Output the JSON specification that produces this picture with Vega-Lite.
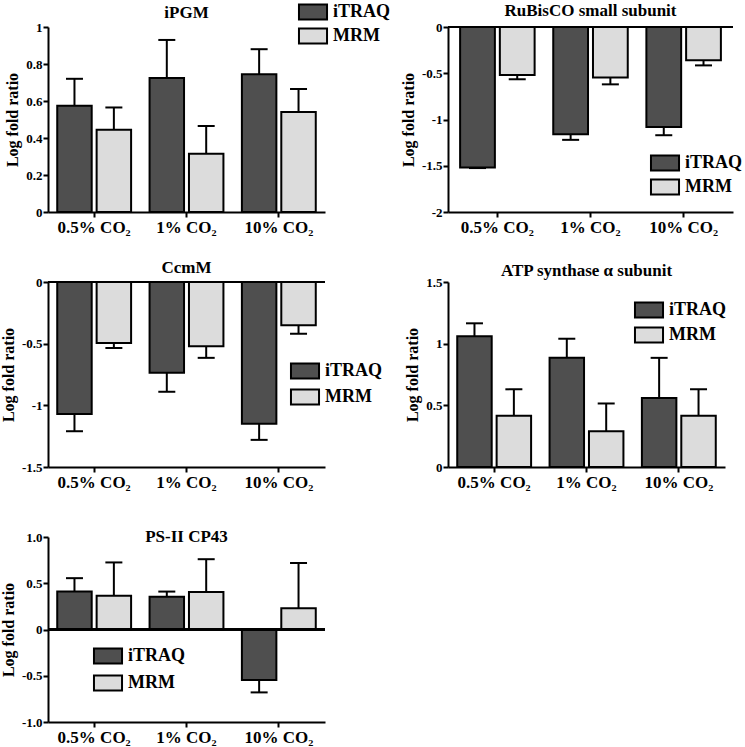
{
  "$schema": "https://vega.github.io/schema/vega-lite/v6.json",
  "padding": {"left": 0, "top": 2, "right": 2, "bottom": 2},
  "background": "white",
  "datasets": {
    "ipgm": [
      {"cond": "0.5% CO₂", "method": "iTRAQ", "value": 0.575, "err": 0.72},
      {"cond": "0.5% CO₂", "method": "MRM", "value": 0.445, "err": 0.565},
      {"cond": "1% CO₂", "method": "iTRAQ", "value": 0.725, "err": 0.93},
      {"cond": "1% CO₂", "method": "MRM", "value": 0.315, "err": 0.465},
      {"cond": "10% CO₂", "method": "iTRAQ", "value": 0.745, "err": 0.88},
      {"cond": "10% CO₂", "method": "MRM", "value": 0.54, "err": 0.665}
    ],
    "rubisco": [
      {"cond": "0.5% CO₂", "method": "iTRAQ", "value": -1.52, "err": -1.525},
      {"cond": "0.5% CO₂", "method": "MRM", "value": -0.52, "err": -0.565},
      {"cond": "1% CO₂", "method": "iTRAQ", "value": -1.16, "err": -1.22},
      {"cond": "1% CO₂", "method": "MRM", "value": -0.545, "err": -0.62},
      {"cond": "10% CO₂", "method": "iTRAQ", "value": -1.08, "err": -1.17},
      {"cond": "10% CO₂", "method": "MRM", "value": -0.36, "err": -0.415}
    ],
    "ccmm": [
      {"cond": "0.5% CO₂", "method": "iTRAQ", "value": -1.07, "err": -1.21},
      {"cond": "0.5% CO₂", "method": "MRM", "value": -0.495, "err": -0.535},
      {"cond": "1% CO₂", "method": "iTRAQ", "value": -0.735, "err": -0.89},
      {"cond": "1% CO₂", "method": "MRM", "value": -0.52, "err": -0.615},
      {"cond": "10% CO₂", "method": "iTRAQ", "value": -1.15, "err": -1.28},
      {"cond": "10% CO₂", "method": "MRM", "value": -0.35, "err": -0.42}
    ],
    "atp": [
      {"cond": "0.5% CO₂", "method": "iTRAQ", "value": 1.06, "err": 1.165},
      {"cond": "0.5% CO₂", "method": "MRM", "value": 0.415, "err": 0.63},
      {"cond": "1% CO₂", "method": "iTRAQ", "value": 0.885, "err": 1.04},
      {"cond": "1% CO₂", "method": "MRM", "value": 0.29, "err": 0.515},
      {"cond": "10% CO₂", "method": "iTRAQ", "value": 0.56, "err": 0.885},
      {"cond": "10% CO₂", "method": "MRM", "value": 0.415, "err": 0.63}
    ],
    "ps2": [
      {"cond": "0.5% CO₂", "method": "iTRAQ", "value": 0.41, "err": 0.555},
      {"cond": "0.5% CO₂", "method": "MRM", "value": 0.365, "err": 0.725},
      {"cond": "1% CO₂", "method": "iTRAQ", "value": 0.355, "err": 0.41},
      {"cond": "1% CO₂", "method": "MRM", "value": 0.405, "err": 0.76},
      {"cond": "10% CO₂", "method": "iTRAQ", "value": -0.545, "err": -0.68},
      {"cond": "10% CO₂", "method": "MRM", "value": 0.23, "err": 0.72}
    ]
  },
  "columns": 2,
  "spacing": {"row": 70, "column": 123},
  "bounds": "flush",
  "resolve": {
    "scale": {"x": "independent", "y": "independent", "fill": "independent", "xOffset": "independent"},
    "legend": {"fill": "independent"},
    "axis": {"x": "independent", "y": "independent"}
  },
  "concat": [
    {
      "data": {"name": "ipgm"},
      "width": 277, "height": 185,
      "title": {"text": "iPGM", "offset": -19},
      "layer": [
        {
          "mark": {"type": "bar", "stroke": "black", "strokeWidth": 2},
          "encoding": {
            "x": {"field": "cond", "type": "nominal", "sort": ["0.5% CO₂", "1% CO₂", "10% CO₂"], "scale": {"paddingInner": 0.2, "paddingOuter": 0.1}, "axis": {"title": null}},
            "xOffset": {"field": "method", "type": "nominal", "sort": ["iTRAQ", "MRM"], "scale": {"paddingInner": 0.125}},
            "y": {"field": "value", "type": "quantitative", "title": "Log fold ratio", "scale": {"domain": [0, 1], "nice": false}, "axis": {"values": [0, 0.2, 0.4, 0.6, 0.8, 1], "tickCount": 12, "labelOverlap": false, "labelExpr": "datum.value == 0 ? '0' : (datum.value < 0 ? '-' : '') + toString(abs(datum.value))"}},
            "fill": {"field": "method", "type": "nominal", "scale": {"domain": ["iTRAQ", "MRM"], "range": ["#4f4f4f", "#dcdcdc"]}, "legend": {"orient": "none", "legendX": 256, "legendY": -24, "title": null, "rowPadding": 0}}
          }
        },
        {
          "mark": {"type": "rule", "stroke": "black", "strokeWidth": 2},
          "encoding": {
            "x": {"field": "cond", "type": "nominal", "sort": ["0.5% CO₂", "1% CO₂", "10% CO₂"]},
            "xOffset": {"field": "method", "type": "nominal", "sort": ["iTRAQ", "MRM"]},
            "y": {"field": "value", "type": "quantitative", "title": "Log fold ratio"},
            "y2": {"field": "err"}
          }
        },
        {
          "mark": {"type": "tick", "color": "black", "thickness": 2, "size": 17, "opacity": 1},
          "encoding": {
            "x": {"field": "cond", "type": "nominal", "sort": ["0.5% CO₂", "1% CO₂", "10% CO₂"]},
            "xOffset": {"field": "method", "type": "nominal", "sort": ["iTRAQ", "MRM"]},
            "y": {"field": "err", "type": "quantitative", "title": "Log fold ratio"}
          }
        }
      ]
    },
    {
      "data": {"name": "rubisco"},
      "width": 285, "height": 185,
      "title": {"text": "RuBisCO small subunit", "offset": 1},
      "layer": [
        {
          "mark": {"type": "bar", "stroke": "black", "strokeWidth": 2},
          "encoding": {
            "x": {"field": "cond", "type": "nominal", "sort": ["0.5% CO₂", "1% CO₂", "10% CO₂"], "scale": {"paddingInner": 0.2, "paddingOuter": 0.13}, "axis": {"title": null}},
            "xOffset": {"field": "method", "type": "nominal", "sort": ["iTRAQ", "MRM"], "scale": {"paddingInner": 0.125}},
            "y": {"field": "value", "type": "quantitative", "title": "Log fold ratio", "scale": {"domain": [-2, 0], "nice": false}, "axis": {"values": [0, -0.5, -1, -1.5, -2], "tickCount": 12, "labelOverlap": false, "labelExpr": "datum.value == 0 ? '0' : (datum.value < 0 ? '-' : '') + toString(abs(datum.value))"}},
            "fill": {"field": "method", "type": "nominal", "scale": {"domain": ["iTRAQ", "MRM"], "range": ["#4f4f4f", "#dcdcdc"]}, "legend": {"orient": "none", "legendX": 208, "legendY": 127, "title": null, "rowPadding": 0}}
          }
        },
        {
          "mark": {"type": "rule", "stroke": "black", "strokeWidth": 2},
          "encoding": {
            "x": {"field": "cond", "type": "nominal", "sort": ["0.5% CO₂", "1% CO₂", "10% CO₂"]},
            "xOffset": {"field": "method", "type": "nominal", "sort": ["iTRAQ", "MRM"]},
            "y": {"field": "value", "type": "quantitative", "title": "Log fold ratio"},
            "y2": {"field": "err"}
          }
        },
        {
          "mark": {"type": "tick", "color": "black", "thickness": 2, "size": 17, "opacity": 1},
          "encoding": {
            "x": {"field": "cond", "type": "nominal", "sort": ["0.5% CO₂", "1% CO₂", "10% CO₂"]},
            "xOffset": {"field": "method", "type": "nominal", "sort": ["iTRAQ", "MRM"]},
            "y": {"field": "err", "type": "quantitative", "title": "Log fold ratio"}
          }
        },
        {
          "mark": {"type": "rule", "stroke": "black", "strokeWidth": 2},
          "encoding": {"y": {"datum": 0, "type": "quantitative"}}
        }
      ]
    },
    {
      "data": {"name": "ccmm"},
      "width": 277, "height": 185,
      "title": {"text": "CcmM", "offset": -1},
      "layer": [
        {
          "mark": {"type": "bar", "stroke": "black", "strokeWidth": 2},
          "encoding": {
            "x": {"field": "cond", "type": "nominal", "sort": ["0.5% CO₂", "1% CO₂", "10% CO₂"], "scale": {"paddingInner": 0.2, "paddingOuter": 0.1}, "axis": {"title": null}},
            "xOffset": {"field": "method", "type": "nominal", "sort": ["iTRAQ", "MRM"], "scale": {"paddingInner": 0.125}},
            "y": {"field": "value", "type": "quantitative", "title": "Log fold ratio", "scale": {"domain": [-1.5, 0], "nice": false}, "axis": {"values": [0, -0.5, -1, -1.5], "tickCount": 12, "labelOverlap": false, "labelExpr": "datum.value == 0 ? '0' : (datum.value < 0 ? '-' : '') + toString(abs(datum.value))"}},
            "fill": {"field": "method", "type": "nominal", "scale": {"domain": ["iTRAQ", "MRM"], "range": ["#4f4f4f", "#dcdcdc"]}, "legend": {"orient": "none", "legendX": 248, "legendY": 80, "title": null, "rowPadding": 2}}
          }
        },
        {
          "mark": {"type": "rule", "stroke": "black", "strokeWidth": 2},
          "encoding": {
            "x": {"field": "cond", "type": "nominal", "sort": ["0.5% CO₂", "1% CO₂", "10% CO₂"]},
            "xOffset": {"field": "method", "type": "nominal", "sort": ["iTRAQ", "MRM"]},
            "y": {"field": "value", "type": "quantitative", "title": "Log fold ratio"},
            "y2": {"field": "err"}
          }
        },
        {
          "mark": {"type": "tick", "color": "black", "thickness": 2, "size": 17, "opacity": 1},
          "encoding": {
            "x": {"field": "cond", "type": "nominal", "sort": ["0.5% CO₂", "1% CO₂", "10% CO₂"]},
            "xOffset": {"field": "method", "type": "nominal", "sort": ["iTRAQ", "MRM"]},
            "y": {"field": "err", "type": "quantitative", "title": "Log fold ratio"}
          }
        },
        {
          "mark": {"type": "rule", "stroke": "black", "strokeWidth": 2},
          "encoding": {"y": {"datum": 0, "type": "quantitative"}}
        }
      ]
    },
    {
      "data": {"name": "atp"},
      "width": 277, "height": 185,
      "title": {"text": "ATP synthase α subunit", "offset": -4},
      "layer": [
        {
          "mark": {"type": "bar", "stroke": "black", "strokeWidth": 2},
          "encoding": {
            "x": {"field": "cond", "type": "nominal", "sort": ["0.5% CO₂", "1% CO₂", "10% CO₂"], "scale": {"paddingInner": 0.2, "paddingOuter": 0.1}, "axis": {"title": null}},
            "xOffset": {"field": "method", "type": "nominal", "sort": ["iTRAQ", "MRM"], "scale": {"paddingInner": 0.125}},
            "y": {"field": "value", "type": "quantitative", "title": "Log fold ratio", "scale": {"domain": [0, 1.5], "nice": false}, "axis": {"values": [0, 0.5, 1, 1.5], "tickCount": 12, "labelOverlap": false, "labelExpr": "datum.value == 0 ? '0' : (datum.value < 0 ? '-' : '') + toString(abs(datum.value))"}},
            "fill": {"field": "method", "type": "nominal", "scale": {"domain": ["iTRAQ", "MRM"], "range": ["#4f4f4f", "#dcdcdc"]}, "legend": {"orient": "none", "legendX": 192, "legendY": 19, "title": null, "rowPadding": 1}}
          }
        },
        {
          "mark": {"type": "rule", "stroke": "black", "strokeWidth": 2},
          "encoding": {
            "x": {"field": "cond", "type": "nominal", "sort": ["0.5% CO₂", "1% CO₂", "10% CO₂"]},
            "xOffset": {"field": "method", "type": "nominal", "sort": ["iTRAQ", "MRM"]},
            "y": {"field": "value", "type": "quantitative", "title": "Log fold ratio"},
            "y2": {"field": "err"}
          }
        },
        {
          "mark": {"type": "tick", "color": "black", "thickness": 2, "size": 17, "opacity": 1},
          "encoding": {
            "x": {"field": "cond", "type": "nominal", "sort": ["0.5% CO₂", "1% CO₂", "10% CO₂"]},
            "xOffset": {"field": "method", "type": "nominal", "sort": ["iTRAQ", "MRM"]},
            "y": {"field": "err", "type": "quantitative", "title": "Log fold ratio"}
          }
        }
      ]
    },
    {
      "data": {"name": "ps2"},
      "width": 277, "height": 185,
      "title": {"text": "PS-II CP43", "offset": -15},
      "layer": [
        {
          "mark": {"type": "bar", "stroke": "black", "strokeWidth": 2},
          "encoding": {
            "x": {"field": "cond", "type": "nominal", "sort": ["0.5% CO₂", "1% CO₂", "10% CO₂"], "scale": {"paddingInner": 0.2, "paddingOuter": 0.1}, "axis": {"title": null}},
            "xOffset": {"field": "method", "type": "nominal", "sort": ["iTRAQ", "MRM"], "scale": {"paddingInner": 0.125}},
            "y": {"field": "value", "type": "quantitative", "title": "Log fold ratio", "scale": {"domain": [-1, 1], "nice": false}, "axis": {"values": [-1, -0.5, 0, 0.5, 1], "tickCount": 12, "labelOverlap": false, "labelExpr": "datum.value == 0 ? '0' : (datum.value < 0 ? '-' : '') + format(abs(datum.value), '.1f')"}},
            "fill": {"field": "method", "type": "nominal", "scale": {"domain": ["iTRAQ", "MRM"], "range": ["#4f4f4f", "#dcdcdc"]}, "legend": {"orient": "none", "legendX": 51, "legendY": 110, "title": null, "rowPadding": 3}}
          }
        },
        {
          "mark": {"type": "rule", "stroke": "black", "strokeWidth": 2},
          "encoding": {
            "x": {"field": "cond", "type": "nominal", "sort": ["0.5% CO₂", "1% CO₂", "10% CO₂"]},
            "xOffset": {"field": "method", "type": "nominal", "sort": ["iTRAQ", "MRM"]},
            "y": {"field": "value", "type": "quantitative", "title": "Log fold ratio"},
            "y2": {"field": "err"}
          }
        },
        {
          "mark": {"type": "tick", "color": "black", "thickness": 2, "size": 17, "opacity": 1},
          "encoding": {
            "x": {"field": "cond", "type": "nominal", "sort": ["0.5% CO₂", "1% CO₂", "10% CO₂"]},
            "xOffset": {"field": "method", "type": "nominal", "sort": ["iTRAQ", "MRM"]},
            "y": {"field": "err", "type": "quantitative", "title": "Log fold ratio"}
          }
        },
        {
          "mark": {"type": "rule", "stroke": "black", "strokeWidth": 2},
          "encoding": {"y": {"datum": 0, "type": "quantitative"}}
        }
      ]
    }
  ],
  "config": {
    "view": {"stroke": null},
    "font": "Liberation Serif",
    "axis": {
      "grid": false,
      "domainColor": "black", "domainWidth": 2,
      "tickColor": "black", "tickWidth": 2, "tickSize": 5,
      "labelFont": "Liberation Serif", "labelFontWeight": "bold", "labelColor": "black",
      "titleFont": "Liberation Serif", "titleFontWeight": "bold", "titleColor": "black"
    },
    "axisX": {"labelFontSize": 17, "labelAngle": 0, "labelPadding": 2},
    "axisY": {"labelFontSize": 13, "labelPadding": 1, "titleFontSize": 16, "titlePadding": 5},
    "title": {"font": "Liberation Serif", "fontSize": 17, "fontWeight": "bold", "color": "black", "anchor": "middle"},
    "legend": {
      "labelFont": "Liberation Serif", "labelFontSize": 18, "labelFontWeight": "bold", "labelColor": "black",
      "symbolType": "M-1.87,-1H1.87V1H-1.87Z", "symbolSize": 225,
      "symbolStrokeColor": "black", "symbolStrokeWidth": 2, "symbolOpacity": 1,
      "labelOffset": 11, "rowPadding": 1, "padding": 0
    }
  }
}
